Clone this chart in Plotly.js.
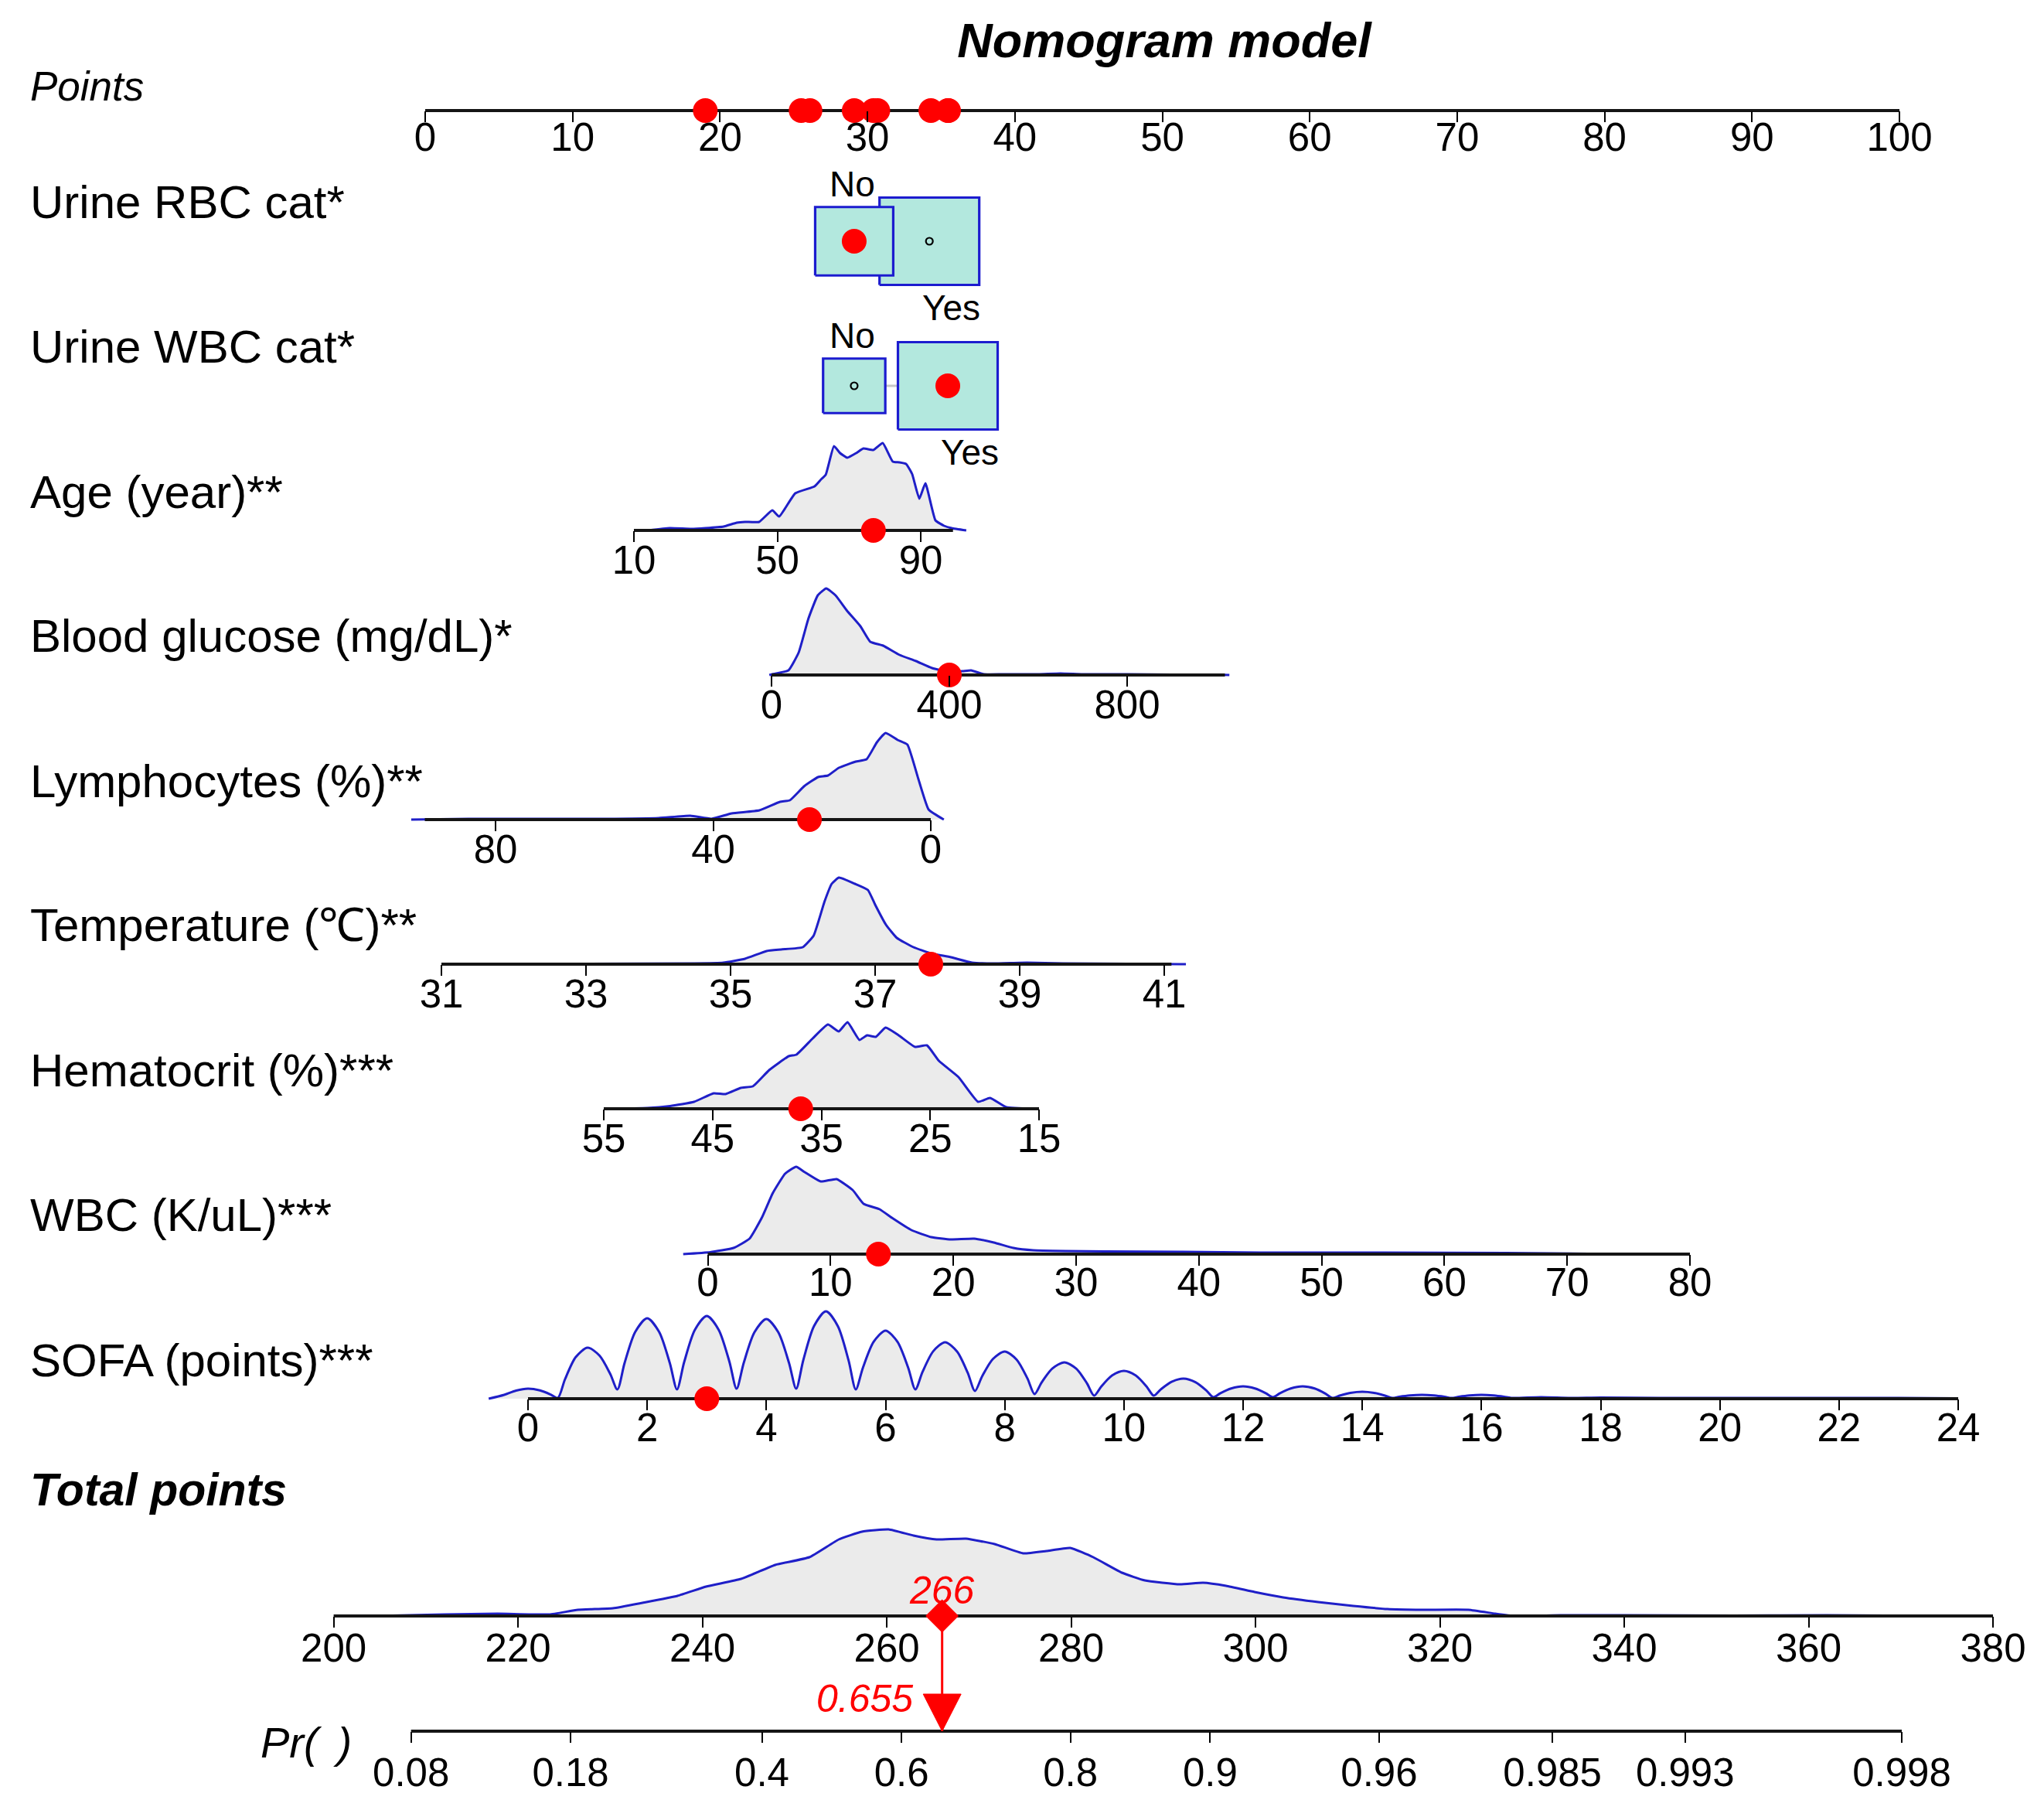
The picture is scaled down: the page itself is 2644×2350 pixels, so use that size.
<!DOCTYPE html>
<html><head><meta charset="utf-8">
<script src="https://cdn.plot.ly/plotly-3.0.1.min.js"></script>
<style>html,body{margin:0;padding:0;background:#fff}</style>
</head><body><div id="chart" style="width:2644px;height:2350px"></div>
<script>
// ---------------- DATA ----------------
const chartTitle = 'Nomogram model';
const varLabels = ['Urine RBC cat*','Urine WBC cat*','Age (year)**','Blood glucose (mg/dL)*','Lymphocytes (%)**','Temperature (\u2103)**','Hematocrit (%)***','WBC (K/uL)***','SOFA (points)***'];
const pointsTicks = [0,10,20,30,40,50,60,70,80,90,100];

const categories = ['No','Yes'];
const rbcPoints = [29.1, 34.2];
const rbcFreq = [0.38, 0.62];
const rbcSelected = 'No';
const wbcCatPoints = [29.1, 35.45];
const wbcCatFreq = [0.28, 0.72];
const wbcCatSelected = 'Yes';

const ageTicks = [10,50,90];
const ageLine = [10,99];
const ageX = [14,20,26,30,35,38.7,41,44.9,48.6,50.5,55,60.4,62.2,63.5,65.8,67.5,69.5,72,74,76.8,79.4,82.2,84,85.9,87.6,89.6,91.3,94.1,96.5,98.6,102.7];
const ageY = [0,3,2,3,5,10,11,11,26,18,48,57,66,72,109,100,94,100,106,104,113,89,88,86,73,41,61,13,6,3,0];
const ageSel = 76.8;

const gluTicks = [0,400,800];
const gluLine = [0,1020];
const gluX = [-5,2,38,61,83,104,123,144,170,200,222,251,288,325,361,398,430,449,478,520,600,650,700,800,900,1000,1030];
const gluY = [0,1,6,29,73,103,112,103,83,63,43,38,26,18,9,4,5,6,1,1,1,2,1,1,0.5,0.5,0];
const gluSel = 400;

const lymTicks = [80,40,0];
const lymLine = [0,93];
const lymX = [95.5,85,70,60,50,44.2,40.3,36.6,31.5,27.7,25.9,23.3,20.7,18.9,16.9,13.8,11.8,9.9,8.3,6.1,4.3,2.3,0.4,-2.4];
const lymY = [0,1,1,1,2,5,1,8,12,23,25,43,55,57,67,75,78,100,112,103,97,53,13,0];
const lymSel = 22.3;

const tmpTicks = [31,33,35,37,39,41];
const tmpLine = [31,41.1];
const tmpX = [31,33,34.5,34.9,35.2,35.5,35.7,36.0,36.15,36.3,36.4,36.5,36.72,36.9,37.0,37.15,37.3,37.53,37.77,38.05,38.34,38.63,39.1,39.6,40.5,41.3];
const tmpY = [0,0.5,1,2,7,17,19,22,37,81,104,112,104,96,77,51,34,22,14,9,2,1,2,1,0.5,0];
const tmpSel = 37.77;

const hctTicks = [55,45,35,25,15];
const hctLine = [15,55];
const hctX = [55,51,48.9,46.7,44.9,43.8,42.4,41.3,39.8,38.0,37.3,35.8,34.4,33.4,32.6,31.5,30.8,30.0,29.1,27.9,26.4,25.3,24.2,22.4,20.6,19.5,18.0,15.5];
const hctY = [0,1,3.6,9,20,19,27,29,50,68,70,91,109,100,112,89,95,93,105,95,80,82,62,41,9,14,2,0];
const hctSel = 36.9;

const wbcTicks = [0,10,20,30,40,50,60,70,80];
const wbcLine = [0,80];
const wbcX = [-2,0.2,2.1,3.4,4.4,5.3,6.3,7.2,7.9,9.2,10.5,11.8,12.7,14.0,15.0,16.6,18.2,19.8,21.7,23.3,24.9,26.5,29.1,32.3,38.7,45,55,65,74.6];
const wbcY = [0,2.5,8,20,47,79,104,113,106,94,97,83,65,58,47,31,22,19,20,15,8,5,4,3.5,3,2,2,1.5,0];
const wbcSel = 13.9;

const sofaTicks = [0,2,4,6,8,10,12,14,16,18,20,22,24];
const sofaLine = [0,24];
const sofaX = [-0.66,-0.4,-0.2,0,0.2,0.38,0.5,
  0.62,0.8,1,1.2,1.38,1.5,
  1.62,1.8,2,2.2,2.38,2.5,
  2.62,2.8,3,3.2,3.38,3.5,
  3.62,3.8,4,4.2,4.38,4.5,
  4.62,4.8,5,5.2,5.38,5.5,
  5.62,5.8,6,6.2,6.38,6.5,
  6.62,6.8,7,7.2,7.38,7.5,
  7.62,7.8,8,8.2,8.38,8.5,
  8.62,8.8,9,9.2,9.38,9.5,
  9.62,9.8,10,10.2,10.38,10.5,
  10.62,10.8,11,11.2,11.38,11.5,
  11.62,11.8,12,12.2,12.38,12.5,
  12.62,12.8,13,13.2,13.38,13.5,
  13.62,13.8,14,14.2,14.38,14.5,
  14.62,14.8,15,15.2,15.38,15.5,
  15.62,15.8,16,16.2,16.38,16.5,
  17,17.5,18,19,20,21,22,23,24];
const sofaY = [0,5,10.5,13,10.7,5.4,1,
  25,53.7,66,55.7,32,12,
  46,86.5,104,86.5,46,12,
  47.2,89,107,89.1,47.8,13,
  46.3,85.9,103,85.9,46.3,13,
  50,94,113,93.8,49.4,12,
  40.1,73.6,88,73.6,40.1,12,
  34.6,61.4,73,61,33.3,10,
  28.9,51.3,61,50.6,26.4,6,
  21.2,39.2,47,38.8,19.9,4,
  15.8,29.9,36,29.9,15.8,4,
  12.1,21.8,26,21.4,10.9,2,
  7.2,13.3,16,13.3,7.2,2,
  7.2,13.3,16,13.2,6.6,1,
  4,7.5,9,7.5,4,1,
  2.5,4.2,5,4.2,2.5,1,
  2.5,4.2,5,4.2,2.5,1,
  2,1,1.5,1,1,1,1,1,0.5];
const sofaSel = 3;

// points contributed by the selected values (shown on the Points scale)
const contribPoints = [29.1, 35.45, 30.4, 35.5, 26.1, 34.3, 25.5, 30.7, 19.0];

const totalTicks = [200,220,240,260,280,300,320,340,360,380];
const totalX = [205,212,217.8,223.4,226.5,230.3,233.5,237.3,240.4,244.2,247.9,251.6,254.8,257.3,260.2,262.9,265.4,268.6,271.7,274.8,277.3,279.9,282.4,285.5,288.0,291.8,294.3,296.8,299.9,303.0,306.8,310.6,314.3,318.1,323.1,326,328.1,333.1,340,351.9,362,374.5];
const totalY = [0,2,3,2,8,10,17,26,38,48,66,76,99,109,112,104,99,100,93,81,84,88,76,56,46,41,43,39,31,24,18,13,9,8,8,3,0,1,1,0.5,1,0];
const totalScore = 266;

const prTicks = [0.08,0.18,0.4,0.6,0.8,0.9,0.96,0.985,0.993,0.998];
const prLabels = ['0.08','0.18','0.4','0.6','0.8','0.9','0.96','0.985','0.993','0.998'];
const prob = 0.655;

// ---------------- LAYOUT / STYLE ----------------
const W = 2644, H = 2350;
const FONT = 'Liberation Sans, Arial, Helvetica, sans-serif';
const logit = p => Math.log(p / (1 - p));
const fx = px => px / W;
const fy = py => 1 - py / H;

const DENS_LINE = '#1f1fc8', DENS_FILL = '#ebebeb', RED = '#ff0000', AXIS = '#151515';
const BOX_FILL = '#b3e8de', BOX_LINE = '#1c1ccf';
const TICKFONT = {family: FONT, size: 51, color: '#000'};

// geometry: calibration [valueA, pxA, valueB, pxB], axis row y in px, tick label standoff
const GEO = {
  points: {cal:[0,550,100,2457], y:143, so:-24},
  rbc:    {cal:[0,550,100,2457], y:312},
  wbcCat: {cal:[0,550,100,2457], y:499},
  age:    {cal:[10,820,90,1191], y:686, so:-20},
  glu:    {cal:[0,998,400,1228], y:873, so:-20},
  lym:    {cal:[80,641,0,1204], y:1060, so:-20},
  tmp:    {cal:[31,571,39,1319], y:1247, so:-20},
  hct:    {cal:[55,781,15,1344], y:1434, so:-20},
  wbc:    {cal:[0,915.5,80,2186], y:1622, so:-22},
  sofa:   {cal:[0,683,24,2533], y:1809, so:-21},
  total:  {cal:[200,431.6,380,2578], y:2090, so:-17},
  pr:     {cal:[logit(0.08),531.7,logit(0.998),2460], y:2239, so:-5}
};
const labelY = [261,448,636,823,1010,1197,1384,1571,1759];

const traces = [];
const layout = {
  width: W, height: H, margin: {l:0, r:0, t:0, b:0},
  paper_bgcolor: '#ffffff', plot_bgcolor: 'rgba(0,0,0,0)',
  showlegend: false, font: {family: FONT, color: '#000'},
  annotations: [],
  title: {text: '<b><i>' + chartTitle + '</i></b>', font: {family: FONT, size: 63, color: '#000'},
          x: fx(1506), xanchor: 'center', y: fy(52), yanchor: 'middle', xref: 'paper', yref: 'paper'}
};

let nAx = 0;
function addAxes(g, tickvals, ticktext) {
  nAx += 1;
  const id = nAx === 1 ? '' : String(nAx);
  const [a, aPx, b, bPx] = g.cal;
  const k = (bPx - aPx) / (b - a);
  const r0 = a + (0 - aPx) / k, r1 = a + (W - aPx) / k;
  const xa = {domain:[0,1], range:[r0, r1], anchor:'free', position: fy(g.y),
    showgrid:false, zeroline:false, showline:false, fixedrange:true};
  if (tickvals) {
    Object.assign(xa, {tickmode:'array', tickvals, ticktext: ticktext || tickvals.map(String),
      ticks:'outside', ticklen:14, tickwidth:2, tickcolor:'#000', tickfont: TICKFONT, showticklabels:true,
      ticklabelstandoff: g.so || 0});
  } else {
    Object.assign(xa, {visible:false});
  }
  layout['xaxis' + id] = xa;
  layout['yaxis' + id] = {domain:[0,1], range:[-(H - g.y), g.y], visible:false, anchor:'free', position:0,
    showgrid:false, zeroline:false, fixedrange:true};
  return {x: 'x' + id, y: 'y' + id, k};
}

function axisLine(ax, range) {
  traces.push({type:'scatter', mode:'lines', x: range, y:[0,0], xaxis: ax.x, yaxis: ax.y,
    line:{color: AXIS, width: 3.8}, hoverinfo:'skip'});
}
function density(ax, xs, ys, smooth) {
  traces.push({type:'scatter', mode:'lines', x: xs, y: ys, xaxis: ax.x, yaxis: ax.y,
    fill:'tozeroy', fillcolor: DENS_FILL, line:{color: DENS_LINE, width: 3, shape:'spline', smoothing: smooth || 0.4}, hoverinfo:'skip'});
}
function redDot(ax, xs) {
  traces.push({type:'scatter', mode:'markers', x: xs, y: xs.map(() => 0), xaxis: ax.x, yaxis: ax.y,
    marker:{color: RED, size: 32, line:{width:0}}, hoverinfo:'skip', cliponaxis:false});
}
function label(text, py, size, style, pxLeft) {
  layout.annotations.push({xref:'paper', yref:'paper', x: fx(pxLeft || 37), y: fy(py), xanchor:'left', yanchor:'middle',
    text: style ? style[0] + text + style[1] : text, showarrow:false, font:{family: FONT, size: size, color:'#000'}});
}

// ---- Points scale ----
const axPts = addAxes(GEO.points, pointsTicks);
axisLine(axPts, [0, 100]);
redDot(axPts, contribPoints);
label('Points', 111, 53, ['<i>', '</i>']);

// ---- categorical rows ----
const pxPerPoint = (GEO.points.cal[3] - GEO.points.cal[1]) / 100;
const BOX_MAX_W = 129, BOX_MAX_H = 113;
function catRow(g, pts, freq, selected, drawOrder) {
  const ax = addAxes(g, null);
  const maxF = Math.max(...freq);
  traces.push({type:'scatter', mode:'lines', x:[pts[0], pts[pts.length-1]], y:[0,0], xaxis: ax.x, yaxis: ax.y,
    line:{color:'#c8c8c8', width:3}, hoverinfo:'skip'});
  const dims = freq.map(f => { const s = Math.sqrt(f / maxF); return [BOX_MAX_W * s, BOX_MAX_H * s]; });
  drawOrder.forEach(i => {
    const hw = dims[i][0] / 2 / pxPerPoint, hh = dims[i][1] / 2, c = pts[i];
    traces.push({type:'scatter', mode:'lines', x:[c-hw, c+hw, c+hw, c-hw, c-hw], y:[-hh, -hh, hh, hh, -hh],
      xaxis: ax.x, yaxis: ax.y, fill:'toself', fillcolor: BOX_FILL, line:{color: BOX_LINE, width: 3.2}, hoverinfo:'skip'});
  });
  categories.forEach((cat, i) => {
    if (cat === selected) {
      traces.push({type:'scatter', mode:'markers', x:[pts[i]], y:[0], xaxis: ax.x, yaxis: ax.y,
        marker:{color: RED, size: 32}, hoverinfo:'skip'});
    } else {
      traces.push({type:'scatter', mode:'markers', x:[pts[i]], y:[0], xaxis: ax.x, yaxis: ax.y,
        marker:{symbol:'circle-open', color:'#000', size: 9, line:{width:2.2, color:'#000'}}, hoverinfo:'skip'});
    }
    const above = i === 0;
    layout.annotations.push({xref: ax.x, yref: ax.y, x: pts[i], y: above ? dims[i][1]/2 + 30 : -(dims[i][1]/2 + 29),
      xshift: above ? -2 : 28, xanchor:'center', yanchor:'middle', text: cat, showarrow:false,
      font:{family: FONT, size: 46, color:'#000'}});
  });
}
catRow(GEO.rbc, rbcPoints, rbcFreq, rbcSelected, [1, 0]);
catRow(GEO.wbcCat, wbcCatPoints, wbcCatFreq, wbcCatSelected, [0, 1]);

// ---- continuous rows ----
const contRows = [
  [GEO.age, ageTicks, ageLine, ageX, ageY, ageSel, 0.4],
  [GEO.glu, gluTicks, gluLine, gluX, gluY, gluSel, 0.4],
  [GEO.lym, lymTicks, lymLine, lymX, lymY, lymSel, 0.4],
  [GEO.tmp, tmpTicks, tmpLine, tmpX, tmpY, tmpSel, 0.4],
  [GEO.hct, hctTicks, hctLine, hctX, hctY, hctSel, 0.4],
  [GEO.wbc, wbcTicks, wbcLine, wbcX, wbcY, wbcSel, 0.4],
  [GEO.sofa, sofaTicks, sofaLine, sofaX, sofaY, sofaSel, 0.8]
];
contRows.forEach(([g, ticks, line, xs, ys, sel, sm]) => {
  const ax = addAxes(g, ticks);
  density(ax, xs, ys, sm);
  axisLine(ax, line);
  redDot(ax, [sel]);
});
varLabels.forEach((t, i) => label(t, labelY[i], 60));

// ---- Total points ----
const axTot = addAxes(GEO.total, totalTicks);
density(axTot, totalX, totalY);
axisLine(axTot, [totalTicks[0], totalTicks[totalTicks.length-1]]);
label('Total points', 1927, 59, ['<b><i>', '</i></b>']);

// ---- Probability ----
const axPr = addAxes(GEO.pr, prTicks.map(logit), prLabels);
axisLine(axPr, [logit(prTicks[0]), logit(prTicks[prTicks.length-1])]);
label('Pr(\u00a0\u2006)', 2253, 56, ['<i>', '</i>'], 335);

const lp = logit(prob);
const gap = GEO.pr.y - GEO.total.y;
traces.push({type:'scatter', mode:'lines', x:[lp, lp], y:[gap, 0], xaxis: axPr.x, yaxis: axPr.y,
  line:{color: RED, width: 3}, hoverinfo:'skip'});
const triHW = 24.5 / axPr.k, triH = 48;
traces.push({type:'scatter', mode:'lines', x:[lp - triHW, lp + triHW, lp, lp - triHW], y:[triH, triH, 0, triH],
  xaxis: axPr.x, yaxis: axPr.y, fill:'toself', fillcolor: RED, line:{color: RED, width: 1}, hoverinfo:'skip'});
traces.push({type:'scatter', mode:'markers', x:[totalScore], y:[0], xaxis: axTot.x, yaxis: axTot.y,
  marker:{symbol:'diamond', color: RED, size: 33}, hoverinfo:'skip', cliponaxis:false});
layout.annotations.push({xref: axTot.x, yref: axTot.y, x: totalScore, y: 33, xanchor:'center', yanchor:'middle',
  text: '<i>' + totalScore + '</i>', showarrow:false, font:{family: FONT, size: 50, color: RED}});
layout.annotations.push({xref: axPr.x, yref: axPr.y, x: lp, y: 42, xanchor:'right', yanchor:'middle', xshift: -36,
  text: '<i>' + prob.toFixed(3) + '</i>', showarrow:false, font:{family: FONT, size: 50, color: RED}});

Plotly.newPlot('chart', traces, layout, {displayModeBar:false, responsive:false});
</script>
</body></html>
